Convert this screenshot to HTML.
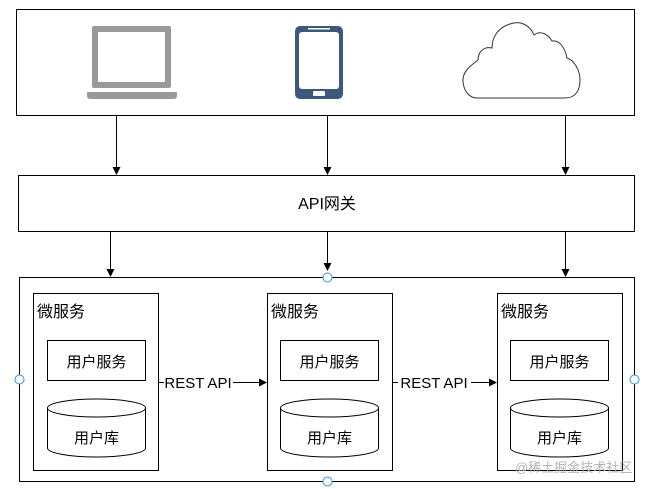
<!DOCTYPE html>
<html><head><meta charset="utf-8"><style>
html,body{margin:0;padding:0;background:#fff;width:654px;height:489px;overflow:hidden}
text{font-family:"Liberation Sans","Noto Sans CJK SC",sans-serif;fill:#000}
</style></head><body>
<svg width="654" height="489" viewBox="0 0 654 489" xmlns="http://www.w3.org/2000/svg">
<defs><marker id="a" markerWidth="8" markerHeight="8" refX="7" refY="4" orient="auto" markerUnits="userSpaceOnUse"><path d="M0,0 L8,4 L0,8 z" fill="#000"/></marker></defs>
<g fill="none" stroke="#000" stroke-width="1">
<rect x="16.5" y="9.5" width="618" height="106"/>
<rect x="18.5" y="175.5" width="616" height="56"/>
<rect x="19.5" y="277.5" width="615" height="204"/>
<line x1="116.5" y1="116" x2="116.5" y2="174" marker-end="url(#a)"/>
<line x1="327.5" y1="116" x2="327.5" y2="174" marker-end="url(#a)"/>
<line x1="565.5" y1="116" x2="565.5" y2="174" marker-end="url(#a)"/>
<line x1="110.5" y1="232" x2="110.5" y2="276" marker-end="url(#a)"/>
<line x1="327.5" y1="232" x2="327.5" y2="270" marker-end="url(#a)"/>
<line x1="565.5" y1="232" x2="565.5" y2="276" marker-end="url(#a)"/>
<rect x="33.5" y="293.5" width="125" height="177"/>
<rect x="267.5" y="293.5" width="125" height="177"/>
<rect x="497.5" y="293.5" width="125" height="177"/>
<rect x="47.5" y="340.5" width="98" height="40"/>
<rect x="280.5" y="340.5" width="98" height="40"/>
<rect x="510.5" y="340.5" width="98" height="40"/>
<path d="M47.5,408 v40 a49,9 0 0 0 98,0 v-40"/><ellipse cx="96.5" cy="408" rx="49" ry="9"/>
<path d="M280.5,408 v40 a49,9 0 0 0 98,0 v-40"/><ellipse cx="329.5" cy="408" rx="49" ry="9"/>
<path d="M510.5,408 v40 a49,9 0 0 0 98,0 v-40"/><ellipse cx="559.5" cy="408" rx="49" ry="9"/>
<line x1="159" y1="382.5" x2="164" y2="382.5"/>
<line x1="233" y1="382.5" x2="266" y2="382.5" marker-end="url(#a)"/>
<line x1="393" y1="382.5" x2="398" y2="382.5"/>
<line x1="471" y1="382.5" x2="496" y2="382.5" marker-end="url(#a)"/>
</g>
<rect x="92" y="26" width="79" height="62" rx="2" fill="#999"/>
<rect x="98" y="32" width="67" height="50" fill="#fff"/>
<path d="M87,92 H177 V96 a3,3 0 0 1 -3,3 H90 a3,3 0 0 1 -3,-3 z" fill="#999"/>
<rect x="295" y="26" width="48" height="73" rx="5" fill="#3d5878"/>
<rect x="299" y="32" width="40" height="57" rx="3" fill="#fff"/>
<rect x="308" y="28" width="22" height="1.5" fill="#fff"/>
<rect x="313" y="91" width="12" height="5" rx="1" fill="#fff"/>
<path d="M477,98 H565 C576,98 580,90 580,80 C580,70 574,60 567,58 C565,48 560,40 552,41 C548,34 540,30 534,35 C530,25 520,20 510,24 C497,28 492,38 492,48 C484,46 478,52 478,60 C470,66 462,72 463,82 C464,92 470,98 477,98 z" fill="none" stroke="#333" stroke-width="1"/>
<g fill="#fff" stroke="#3b8edb" stroke-width="1">
<circle cx="327.5" cy="277.5" r="4.5"/><circle cx="19.5" cy="379.5" r="4.5"/><circle cx="634.5" cy="379.5" r="4.5"/><circle cx="327.5" cy="481.5" r="4.5"/>
</g>
<text x="327" y="209" font-size="16" text-anchor="middle">API网关</text>
<g font-size="16">
<text x="37" y="317">微服务</text><text x="271" y="317">微服务</text><text x="501" y="317">微服务</text>
</g>
<g font-size="15" text-anchor="middle">
<text x="96.5" y="367">用户服务</text><text x="329.5" y="367">用户服务</text><text x="559.5" y="367">用户服务</text>
<text x="96.5" y="443">用户库</text><text x="329.5" y="443">用户库</text><text x="559.5" y="443">用户库</text>
<text x="198" y="388">REST API</text><text x="434" y="388">REST API</text>
</g>
<text x="515" y="472" font-size="13" style="fill:#b4b4b4">@稀土掘金技术社区</text>
</svg>
</body></html>
